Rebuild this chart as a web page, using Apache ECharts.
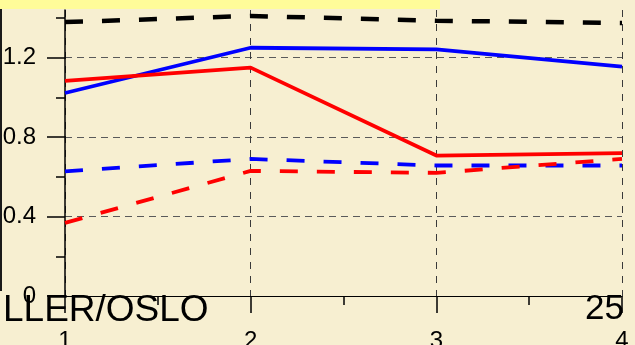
<!DOCTYPE html>
<html>
<head>
<meta charset="utf-8">
<script src="https://cdn.jsdelivr.net/npm/echarts@6/dist/echarts.min.js"></script>
<style>
  html, body { margin: 0; padding: 0; background: #F7EFD1; }
  #chart { width: 635px; height: 345px; }
</style>
</head>
<body>
<div id="chart"></div>
<script>
// Measurement points along the x axis
const xValues = [1, 2, 3, 4];

// Series values
const blackDashed = [1.379, 1.41, 1.386, 1.375];
const blueSolid   = [1.022, 1.25, 1.242, 1.155];
const redSolid    = [1.083, 1.15, 0.707, 0.719];
const blueDashed  = [0.628, 0.69, 0.657, 0.657];
const redDashed   = [0.368, 0.63, 0.62, 0.69];

// Axis tick values
const yMajorTicks = [0, 0.4, 0.8, 1.2];
const yMinorTicks = [0.2, 0.6, 1.0, 1.4];

// Page texts
const footerLeft = 'LLER/OSLO';
const pageNumber = '25';

const FONT = '"Liberation Sans", Arial, sans-serif';
const pairs = ys => xValues.map((x, i) => [x, ys[i]]);
const DASH = [18, 19];

function lineSeries(name, ys, color, dashed, width) {
  return {
    name: name,
    type: 'line',
    data: pairs(ys),
    symbol: 'none',
    smooth: false,
    xAxisIndex: 0,
    yAxisIndex: 0,
    lineStyle: { color: color, width: width, type: dashed ? DASH : 'solid', cap: 'butt' },
    z: 5
  };
}

const chart = echarts.init(document.getElementById('chart'), null, { renderer: 'canvas' });

chart.setOption({
  backgroundColor: '#F7EFD1',
  animation: false,
  grid: { left: 65, right: 13, top: 10, bottom: 49, containLabel: false, outerBoundsMode: 'none' },
  xAxis: [{
    type: 'value',
    min: 1, max: 4, interval: 1,
    axisLine: { show: true, onZero: false, lineStyle: { color: '#000', width: 1.2 } },
    axisTick: { show: true, inside: false, length: 17, lineStyle: { color: '#000', width: 1.5 } },
    minorTick: { show: true, splitNumber: 2, length: 9, lineStyle: { color: '#000', width: 1.5 } },
    axisLabel: { show: true, margin: 33, color: '#000', fontFamily: FONT, fontSize: 24 },
    splitLine: { show: true, lineStyle: { color: '#3a3a3a', width: 1, type: [7, 7] } },
    minorSplitLine: { show: false }
  }],
  yAxis: [{
    type: 'value',
    min: 0, max: 1.44,
    position: 'left',
    axisLine: { show: true, onZero: false, lineStyle: { color: '#000', width: 1.5 } },
    axisTick: { show: true, inside: false, length: 18, customValues: yMajorTicks,
                lineStyle: { color: '#000', width: 1.5 } },
    axisLabel: { show: true, margin: 29, customValues: yMajorTicks, color: '#000',
                 fontFamily: FONT, fontSize: 24,
                 formatter: v => (v === 0 ? '0' : v.toFixed(1)) },
    splitLine: { show: true, lineStyle: { color: '#5a5a5a', width: 1, type: [7, 5] } }
  }, {
    type: 'value',
    min: 0, max: 1.44,
    position: 'left',
    axisLine: { show: false },
    axisTick: { show: true, inside: false, length: 9, customValues: yMinorTicks,
                lineStyle: { color: '#000', width: 1.5 } },
    axisLabel: { show: false },
    splitLine: { show: false }
  }],
  series: [
    lineSeries('black dashed', blackDashed, '#000000', true, 4.5),
    lineSeries('blue solid', blueSolid, '#0000FF', false, 3.8),
    lineSeries('red solid', redSolid, '#FF0000', false, 3.8),
    lineSeries('blue dashed', blueDashed, '#0000FF', true, 3.8),
    lineSeries('red dashed', redDashed, '#FF0000', true, 3.8)
  ],
  graphic: [
    { type: 'rect', z: 50, shape: { x: 0, y: 0, width: 440, height: 9 },
      style: { fill: '#FFFC99' } },
    { type: 'line', z: 50, shape: { x1: 1, y1: 9, x2: 1, y2: 291 },
      style: { stroke: '#1a1a1a', lineWidth: 2 } },
    { type: 'text', z: 100, x: 3, y: 310.5,
      style: { text: footerLeft, fill: '#000', font: '37px ' + FONT,
               align: 'left', verticalAlign: 'middle' } },
    { type: 'text', z: 100, x: 624, y: 309.5,
      style: { text: pageNumber, fill: '#000', font: '35px ' + FONT,
               align: 'right', verticalAlign: 'middle' } }
  ]
});
</script>
</body>
</html>
